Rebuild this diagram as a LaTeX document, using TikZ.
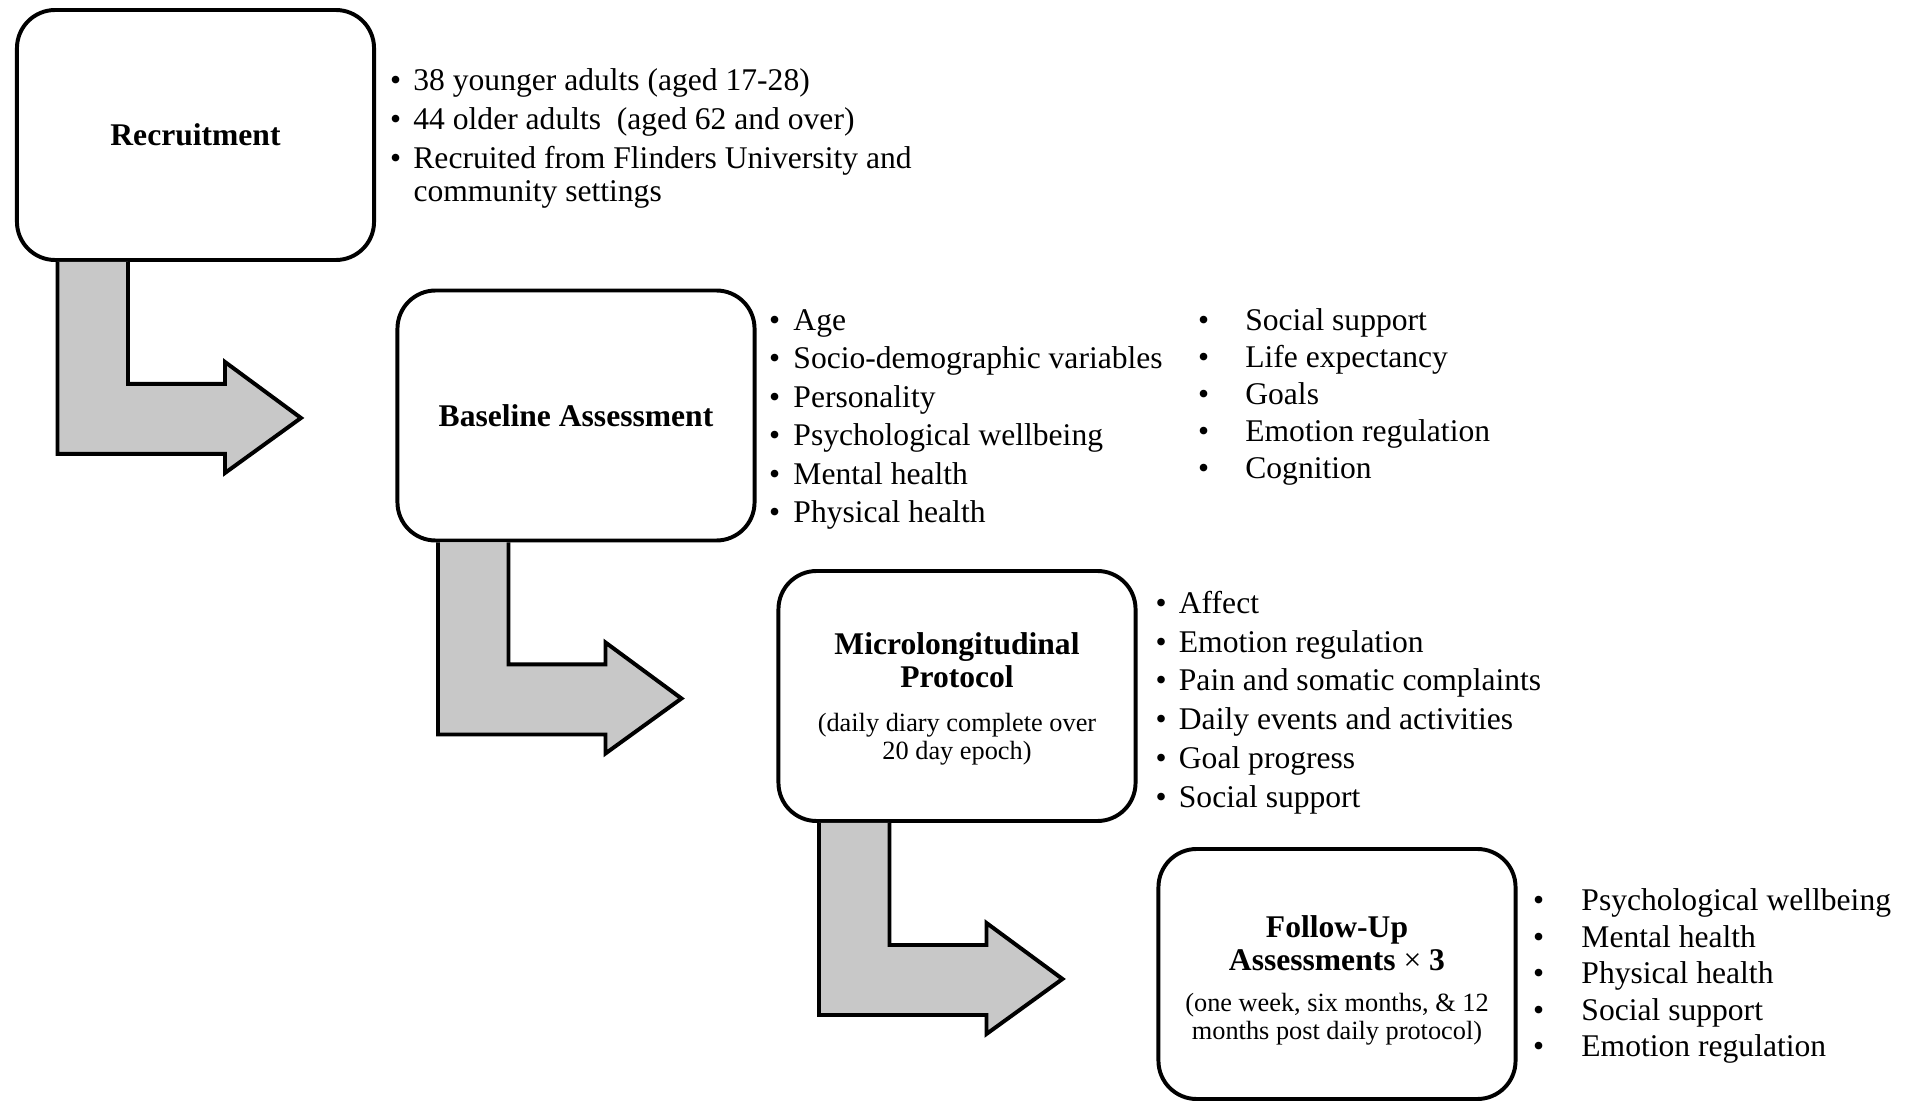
\documentclass[tikz,border=0pt]{standalone}
\usepackage{fontspec}
\setmainfont{Liberation Serif}
\usetikzlibrary{positioning, calc}

\definecolor{arrowgray}{RGB}{200,200,200}
\newcommand{\stagenote}{\fontsize{10}{9.5}\selectfont\mdseries}

\begin{document}
\begin{tikzpicture}[x=0.38pt, y=-0.38pt,
		stage/.style={draw, line width=1.5pt, rounded corners=14.5pt, fill=white, minimum width=135.7pt, minimum height=95pt, align=center, font=\fontsize{12}{12.6}\selectfont\bfseries},
		stagetext/.style={align=center, inner sep=0pt, font=\fontsize{12}{12.6}\selectfont\bfseries},
		item/.style={anchor=base west, inner sep=0pt, font=\fontsize{12}{14}\selectfont},
		blockarrow/.style={draw, line width=1.5pt, fill=arrowgray, line join=miter}]
	\useasboundingbox (0,0) rectangle (1917,1101);
					% the four stages
					\node[stage] (rec) at (195.5,135) {Recruitment};
					\node[stage] (base) at (576,415.5) {Baseline Assessment};
					\node[stage] (micro) at (957,696) {};
					\node[stage] (follow) at (1337,974) {};
					\node[stagetext] (micro-text) at ($(micro.center)+(0,3)$) {Microlongitudinal\\Protocol\\[3.8pt]{\stagenote (daily diary complete over}\\[-1.8pt]{\stagenote 20 day epoch)}};
					\node[stagetext] (follow-text) at ($(follow.center)+(0,6.5)$) {Follow-Up\\Assessments {\mdseries ×} 3\\[2.9pt]{\stagenote (one week, six months, \& 12}\\[-1.8pt]{\stagenote months post daily protocol)}};
					% bent arrows from one stage to the next
					\foreach \b in {rec, base, micro}
						\draw[blockarrow] ($(\b.south west)+(113,0)$) -- ($(\b.south west)+(113,122)$) -- ($(\b.south west)+(210,122)$) -- ($(\b.south west)+(210,100)$) -- ($(\b.south west)+(286,156)$) -- ($(\b.south west)+(210,211)$) -- ($(\b.south west)+(210,192)$) -- ($(\b.south west)+(42.5,192)$) -- ($(\b.south west)+(42.5,0)$);
					% recruitment
					\foreach \txt [count=\i from 0] in {38 younger adults (aged 17-28), 44 older adults\ \ (aged 62 and over), Recruited from Flinders University and}
						\node[item] (rec-\i) at (389.5,{90.5+38.8*\i}) {\makebox[8.9pt][l]{\textbullet}\txt};
					\node[item] (rec-3) at (413,202) {community settings};
					% baseline assessment
					\foreach \txt [count=\i from 0] in {Age, Socio-demographic variables, Personality, Psychological wellbeing, Mental health, Physical health}
						\node[item] (base-\i) at (768.5,{330.5+38.4*\i}) {\makebox[9.3pt][l]{\textbullet}\txt};
					\foreach \txt [count=\i from 0] in {Social support, Life expectancy, Goals, Emotion regulation, Cognition}
						\node[item] (extra-\i) at (1197.5,{330.5+37*\i}) {\makebox[18pt][l]{\textbullet}\txt};
					% microlongitudinal protocol
					\foreach \txt [count=\i from 0] in {Affect, Emotion regulation, Pain and somatic complaints, Daily events and activities, Goal progress, Social support}
						\node[item] (micro-\i) at (1155,{613.5+38.7*\i}) {\makebox[8.9pt][l]{\textbullet}\txt};
					% follow-up
					\foreach \txt [count=\i from 0] in {Psychological wellbeing, Mental health, Physical health, Social support, Emotion regulation}
						\node[item] (follow-\i) at (1532.5,{910.5+36.5*\i}) {\makebox[18.4pt][l]{\textbullet}\txt};
				\end{tikzpicture}
\end{document}
